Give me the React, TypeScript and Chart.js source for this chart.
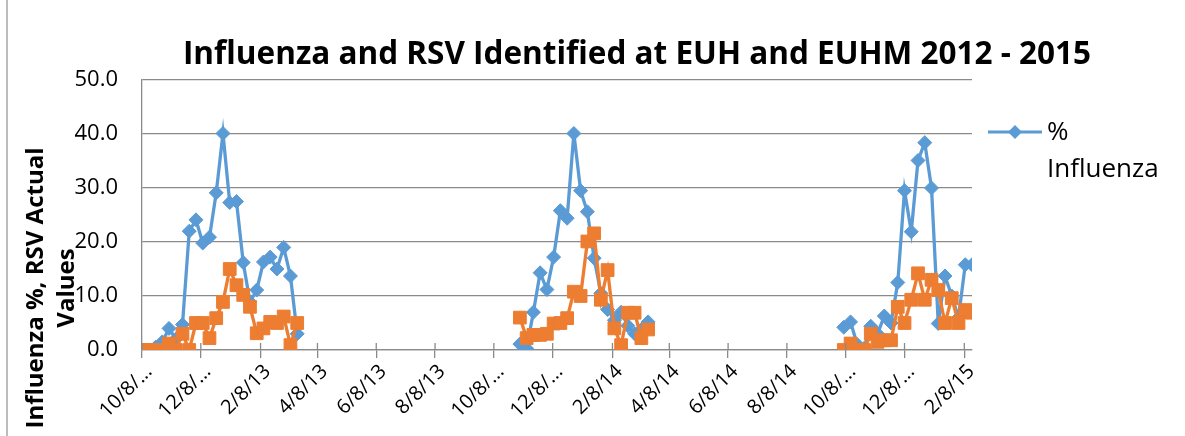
import React, { useEffect, useRef } from "react";
import { Chart, registerables } from "chart.js";

Chart.register(...registerables);

// ---- Data (weekly) ----
const season1Dates = [
  "10/8/12", "10/15/12", "10/22/12", "10/29/12", "11/5/12", "11/12/12", "11/19/12", "11/26/12",
  "12/3/12", "12/10/12", "12/17/12", "12/24/12", "12/31/12", "1/7/13", "1/14/13", "1/21/13",
  "1/28/13", "2/4/13", "2/11/13", "2/18/13", "2/25/13", "3/4/13", "3/11/13", "3/18/13",
];
const season1Influenza = [
  0, 0, 0.5, 1.5, 4.0, 2.0, 4.7, 22.0, 24.1, 19.8, 20.9, 29.1, 40.1, 27.3, 27.5, 16.2,
  8.9, 11.1, 16.3, 17.2, 15.0, 19.0, 13.7, 3.0,
];
const season1Rsv = [
  0, 0, 0, 0, 1.2, 0, 3.0, 0, 5.0, 5.0, 2.2, 5.9, 8.9, 15.0, 12.0, 10.2,
  8.0, 3.1, 4.0, 5.2, 5.0, 6.2, 0.9, 5.0,
];

const season2Dates = [
  "11/4/13", "11/11/13", "11/18/13", "11/25/13", "12/2/13", "12/9/13", "12/16/13", "12/23/13",
  "12/30/13", "1/6/14", "1/13/14", "1/20/14", "1/27/14", "2/3/14", "2/10/14", "2/17/14",
  "2/24/14", "3/3/14", "3/10/14", "3/17/14",
];
const season2Influenza = [
  1.1, 0.3, 7.0, 14.3, 11.2, 17.2, 25.8, 24.4, 40.1, 29.5, 25.6, 17.0, 10.5, 7.5, 5.5, 7.0,
  4.5, 3.0, 3.8, 5.2,
];
const season2Rsv = [
  6.0, 2.2, 2.8, 2.8, 3.0, 4.9, 5.0, 5.9, 10.8, 10.0, 20.1, 21.6, 9.3, 14.8, 4.0, 0.9,
  6.9, 6.9, 2.2, 3.8,
];

const season3Dates = [
  "10/6/14", "10/13/14", "10/20/14", "10/27/14", "11/3/14", "11/10/14", "11/17/14", "11/24/14",
  "12/1/14", "12/8/14", "12/15/14", "12/22/14", "12/29/14", "1/5/15", "1/12/15", "1/19/15",
  "1/26/15", "2/2/15", "2/9/15", "2/16/15",
];
const season3Influenza = [
  4.2, 5.2, 1.0, 0.3, 4.4, 3.0, 6.3, 5.0, 12.5, 29.5, 21.9, 35.1, 38.4, 30.0, 4.9, 13.7,
  10.0, 6.0, 15.8, 15.8,
];
const season3Rsv = [
  0, 1.2, 0, 0, 3.0, 1.5, 1.8, 1.8, 8.0, 5.0, 9.3, 14.2, 9.3, 13.0, 11.1, 5.0,
  9.6, 5.0, 7.4, 6.9,
];

const axisStartDate = "10/8/12";
const axisEndDate = "2/16/15";
const tickDates = [
  "10/8/12", "12/8/12", "2/8/13", "4/8/13", "6/8/13", "8/8/13", "10/8/13", "12/8/13",
  "2/8/14", "4/8/14", "6/8/14", "8/8/14", "10/8/14", "12/8/14", "2/8/15",
];
const tickLabels = [
  "10/8/...", "12/8/...", "2/8/13", "4/8/13", "6/8/13", "8/8/13", "10/8/...", "12/8/...",
  "2/8/14", "4/8/14", "6/8/14", "8/8/14", "10/8/...", "12/8/...", "2/8/15",
];

const chartTitle = "Influenza and RSV Identified at EUH and EUHM 2012 - 2015";
const yTitleLines = ["Influenza %, RSV Actual", "Values"];
const seriesNames = ["% Influenza", "RSV Actual Values"];
const legendLines = ["%", "Influenza"];

const BLUE = "#5B9BD5";
const ORANGE = "#ED7D31";
const GRID = "#8a8a8a";
const FONT = '"Open Sans", "DejaVu Sans", sans-serif';

function toUtc(s: string): number {
  const [m, d, y] = s.split("/").map(Number);
  return Date.UTC(2000 + y, m - 1, d);
}
const BASE = toUtc(axisStartDate);
function dayOf(s: string): number {
  return Math.round((toUtc(s) - BASE) / 86400000);
}

type Pt = { x: number; y: number | null };
function buildSeries(seasons: [string[], number[]][]): Pt[] {
  const out: Pt[] = [];
  seasons.forEach(([dates, vals], si) => {
    dates.forEach((d, i) => out.push({ x: dayOf(d), y: vals[i] }));
    if (si < seasons.length - 1) out.push({ x: dayOf(dates[dates.length - 1]) + 3, y: null });
  });
  return out;
}

const decorPlugin = {
  id: "decor",
  afterDraw(chart: any) {
    const ctx: CanvasRenderingContext2D = chart.ctx;
    const area = chart.chartArea;
    const xs = chart.scales.x;
    ctx.save();

    // tick marks crossing the x axis (upper part)
    ctx.strokeStyle = GRID;
    ctx.lineWidth = 1.3;
    xs.ticks.forEach((t: any) => {
      const px = xs.getPixelForValue(t.value);
      ctx.beginPath();
      ctx.moveTo(px, area.bottom - 7);
      ctx.lineTo(px, area.bottom);
      ctx.stroke();
    });

    // left frame line
    ctx.strokeStyle = "#a6a6a6";
    ctx.lineWidth = 1.5;
    ctx.beginPath();
    ctx.moveTo(7, 0);
    ctx.lineTo(7, chart.height);
    ctx.stroke();

    // title
    ctx.fillStyle = "#000";
    ctx.font = `bold 31.5px ${FONT}`;
    ctx.textAlign = "center";
    ctx.textBaseline = "middle";
    ctx.fillText(chartTitle, 637, 55);

    // y axis title
    ctx.save();
    ctx.translate(0, 288);
    ctx.rotate(-Math.PI / 2);
    ctx.font = `bold 24px ${FONT}`;
    ctx.textAlign = "center";
    ctx.textBaseline = "middle";
    ctx.fillText(yTitleLines[0], 0, 36);
    ctx.fillText(yTitleLines[1], 0, 67);
    ctx.restore();

    // legend
    const ly = 132;
    ctx.strokeStyle = BLUE;
    ctx.lineWidth = 3;
    ctx.beginPath();
    ctx.moveTo(988, ly);
    ctx.lineTo(1042, ly);
    ctx.stroke();
    ctx.fillStyle = BLUE;
    ctx.beginPath();
    ctx.moveTo(1015, ly - 7);
    ctx.lineTo(1022, ly);
    ctx.lineTo(1015, ly + 7);
    ctx.lineTo(1008, ly);
    ctx.closePath();
    ctx.fill();
    ctx.fillStyle = "#000";
    ctx.font = `26px ${FONT}`;
    ctx.textAlign = "left";
    ctx.textBaseline = "middle";
    ctx.fillText(legendLines[0], 1047, ly + 1);
    ctx.fillText(legendLines[1], 1047, ly + 38);

    ctx.restore();
  },
};

export default function App() {
  const ref = useRef<HTMLCanvasElement | null>(null);

  useEffect(() => {
    if (!ref.current) return;
    const influenza = buildSeries([
      [season1Dates, season1Influenza],
      [season2Dates, season2Influenza],
      [season3Dates, season3Influenza],
    ]);
    const rsv = buildSeries([
      [season1Dates, season1Rsv],
      [season2Dates, season2Rsv],
      [season3Dates, season3Rsv],
    ]);
    const tickDays = tickDates.map(dayOf);

    const chart = new Chart(ref.current, {
      type: "line",
      data: {
        datasets: [
          {
            label: seriesNames[0],
            data: influenza as any,
            borderColor: BLUE,
            backgroundColor: BLUE,
            borderWidth: 3.3,
            pointStyle: "rectRot",
            pointRadius: 7,
            pointBorderWidth: 1,
            pointBorderColor: BLUE,
            pointBackgroundColor: BLUE,
            spanGaps: false,
            tension: 0,
            order: 1,
          },
          {
            label: seriesNames[1],
            data: rsv as any,
            borderColor: ORANGE,
            backgroundColor: ORANGE,
            borderWidth: 3.3,
            pointStyle: "rect",
            pointRadius: 9,
            pointBorderWidth: 1,
            pointBorderColor: ORANGE,
            pointBackgroundColor: ORANGE,
            spanGaps: false,
            tension: 0,
            order: 0,
          },
        ],
      },
      options: {
        animation: false,
        responsive: false,
        devicePixelRatio: 1,
        layout: { padding: { left: 20, right: 213, top: 80, bottom: 0 } },
        plugins: {
          legend: { display: false },
          title: { display: false },
          tooltip: { enabled: false },
        },
        scales: {
          x: {
            type: "linear",
            min: dayOf(axisStartDate),
            max: dayOf(axisEndDate),
            afterBuildTicks: (scale: any) => {
              scale.ticks = tickDays.map((v) => ({ value: v }));
            },
            afterFit: (scale: any) => {
              scale.height = 86;
            },
            grid: {
              drawOnChartArea: false,
              drawTicks: true,
              tickLength: 8,
              color: GRID,
              lineWidth: 1.3,
            },
            border: { display: true, color: GRID, width: 1.3 },
            ticks: {
              autoSkip: false,
              maxRotation: 45,
              minRotation: 45,
              padding: 2,
              labelOffset: 7,
              color: "#000",
              font: { family: FONT, size: 20 },
              callback: (_v: any, i: number) => tickLabels[i],
            },
          },
          y: {
            min: 0,
            max: 50,
            afterFit: (scale: any) => {
              scale.width = 122;
            },
            grid: { color: GRID, lineWidth: 1.3, drawTicks: false },
            border: { display: true, color: GRID, width: 1.3 },
            ticks: {
              stepSize: 10,
              padding: 24,
              color: "#000",
              font: { family: FONT, size: 22 },
              callback: (v: any) => Number(v).toFixed(1),
            },
          },
        },
      },
      plugins: [decorPlugin],
    });
    return () => chart.destroy();
  }, []);

  return (
    <canvas
      ref={ref}
      width={1185}
      height={436}
      style={{ position: "absolute", left: 0, top: 0 }}
    />
  );
}
